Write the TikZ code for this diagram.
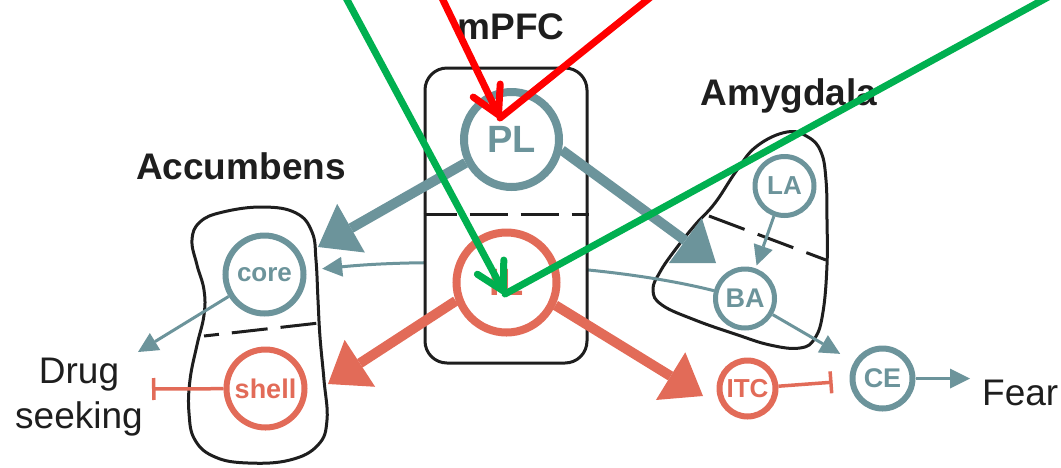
\documentclass[tikz,border=0pt]{standalone}
\usepackage{fontspec}
\setmainfont{Liberation Sans}
\usetikzlibrary{arrows.meta,calc}
\pgfdeclarelayer{blobs}
\pgfdeclarelayer{behind}
\pgfsetlayers{blobs,behind,main}
\definecolor{tealc}{RGB}{108,148,155}
\definecolor{salm}{RGB}{226,107,88}
\definecolor{redc}{RGB}{255,0,0}
\definecolor{greenc}{RGB}{0,176,80}
\definecolor{ink}{RGB}{30,30,30}
\begin{document}
\begin{tikzpicture}[x=1pt,y=-1pt,
  tcirc/.style={circle, draw=tealc, fill=white, text=tealc, inner sep=0pt},
  scirc/.style={circle, draw=salm, fill=white, text=salm, inner sep=0pt},
  fs/.style={font=\bfseries\fontsize{#1}{#1}\selectfont},
  region/.style={draw=ink, line width=3pt},
  divider/.style={draw=ink, line width=3pt},
  thickT/.style={draw=tealc, line width=10pt, -{Triangle[length=38pt,width=56pt,line width=0pt]}},
  thickS/.style={draw=salm, line width=10pt, -{Triangle[length=38pt,width=56pt,line width=0pt]}},
  thinT/.style={draw=tealc, line width=3pt, -{Triangle[length=20pt,width=20pt,line width=0pt]}},
  inhS/.style={draw=salm, line width=3.5pt, -{Bar[width=22pt]}},
  regionlabel/.style={font=\bfseries\fontsize{37}{44}\selectfont, text=ink, inner sep=0pt, anchor=base},
  plain/.style={font=\fontsize{37}{44}\selectfont, text=ink, inner sep=0pt, anchor=base},
  redline/.style={draw=redc, line width=7pt, line cap=round},
  greenline/.style={draw=greenc, line width=7pt, line cap=round},
  barbtip/.style={-{Straight Barb[length=27pt,width=30pt,round]}}
]
\useasboundingbox (0,0) rectangle (1061,467);

% region outlines
\begin{pgfonlayer}{blobs}
\draw[region] plot[smooth cycle, tension=0.7] coordinates {(263,207) (223,212) (200,222) (192,240) (197,265) (204,290) (204,315) (197,345) (190,380) (189,413) (195,440) (215,457) (248,463) (290,460) (318,445) (327,420) (324,380) (320,337) (318,300) (316,260) (312,232) (296,213)};
\draw[divider, dash pattern=on 36pt off 13pt, dash phase=21pt] (204,336) -- (319,323);
\draw[region] plot[smooth cycle, tension=0.7] coordinates {(787,132) (808,137) (821,152) (826,180) (827,220) (827,265) (823,312) (815,338) (800,348) (770,345) (735,334) (695,320) (662,305) (653,290) (660,272) (675,250) (695,225) (715,203) (737,170) (757,146)};
\draw[divider, dash pattern=on 38pt off 14pt] (709,216) -- (826,260);
\end{pgfonlayer}

% labels
\node[regionlabel] (mpfcl) at (511,39) {mPFC};
\node[regionlabel] (accl) at (241,179) {Accumbens};
\node[regionlabel] (amyl) at (789,105) {Amygdala};
\node[plain] (drug) at (79,383) {Drug};
\node[plain] (seek) at (79,428) {seeking};
\node[plain, anchor=base west] (fear) at (982,405) {Fear};

% mPFC box
\node[draw=ink, line width=3pt, fill=white, rounded corners=22pt, minimum width=162pt, minimum height=295pt, inner sep=0pt] (box) at (506,215.5) {};
\draw[divider, dash pattern=on 38pt off 13pt, dash phase=5pt] (box.west |- 0,214) -- (box.east |- 0,214);

% circles
\node[tcirc, line width=8pt, minimum size=95pt, fs=38] (PL) at (511.5,139.5) {PL};
\node[scirc, line width=8pt, minimum size=100pt, fs=38] (IL) at (506.5,282.5) {IL};
\node[tcirc, line width=6pt, minimum size=78pt, fs=26] (core) at (264.5,274.5) {core};
\node[scirc, line width=6pt, minimum size=78pt, fs=27] (shell) at (265.5,388.5) {shell};
\node[tcirc, line width=5pt, minimum size=59pt, fs=26] (LA) at (784.5,186) {LA};
\node[tcirc, line width=5pt, minimum size=59pt, fs=27] (BA) at (745,298.5) {BA};
\node[tcirc, line width=6pt, minimum size=60pt, fs=27] (CE) at (882.5,378.5) {CE};
\node[scirc, line width=6pt, minimum size=56pt, fs=26] (ITC) at (747.5,388.5) {ITC};

% thin curve BA -> core, passing behind the mPFC box
\begin{pgfonlayer}{behind}
\draw[thinT, shorten >=16pt] (BA) .. controls (600,262) and (430,258) .. (core);
\end{pgfonlayer}

% thick projections
\coordinate (tipCore) at (318,247);
\coordinate (tipBA) at (716,263);
\coordinate (tipShell) at (328,384);
\coordinate (tipITC) at (703,396);
\draw[thickT] (PL.207) -- (tipCore);
\draw[thickT] (PL.-12) -- (tipBA);
\draw[thickS] (IL.200) -- (tipShell);
\draw[thickS] (IL.-25) -- (tipITC);

% thin connections
\coordinate (tipDrug) at (138,352);
\coordinate (barShell) at (152,389);
\draw[thinT] (core) -- (tipDrug);
\draw[inhS] (shell) -- (barShell);
\draw[thinT, shorten >=3pt] (LA) -- (BA);
\draw[thinT, shorten >=16pt] (BA) -- (CE);
\draw[inhS, shorten >=17pt] (ITC) -- (CE);
\draw[thinT, shorten >=12pt] (CE.east) -- (CE.east -| fear.west);

% overlaid red and green lines
\coordinate (r1) at (441,-4);
\coordinate (r2) at (652,-4);
\coordinate (redTip) at (500,118);
\coordinate (g1) at (345,-4);
\coordinate (g2) at (1050,-4);
\coordinate (greenTip) at (505,294);
\draw[redline] (r2) -- (redTip);
\draw[redline, barbtip] (r1) -- (redTip);
\draw[greenline] (g2) -- (greenTip);
\draw[greenline, barbtip] (g1) -- (greenTip);
\end{tikzpicture}
\end{document}
